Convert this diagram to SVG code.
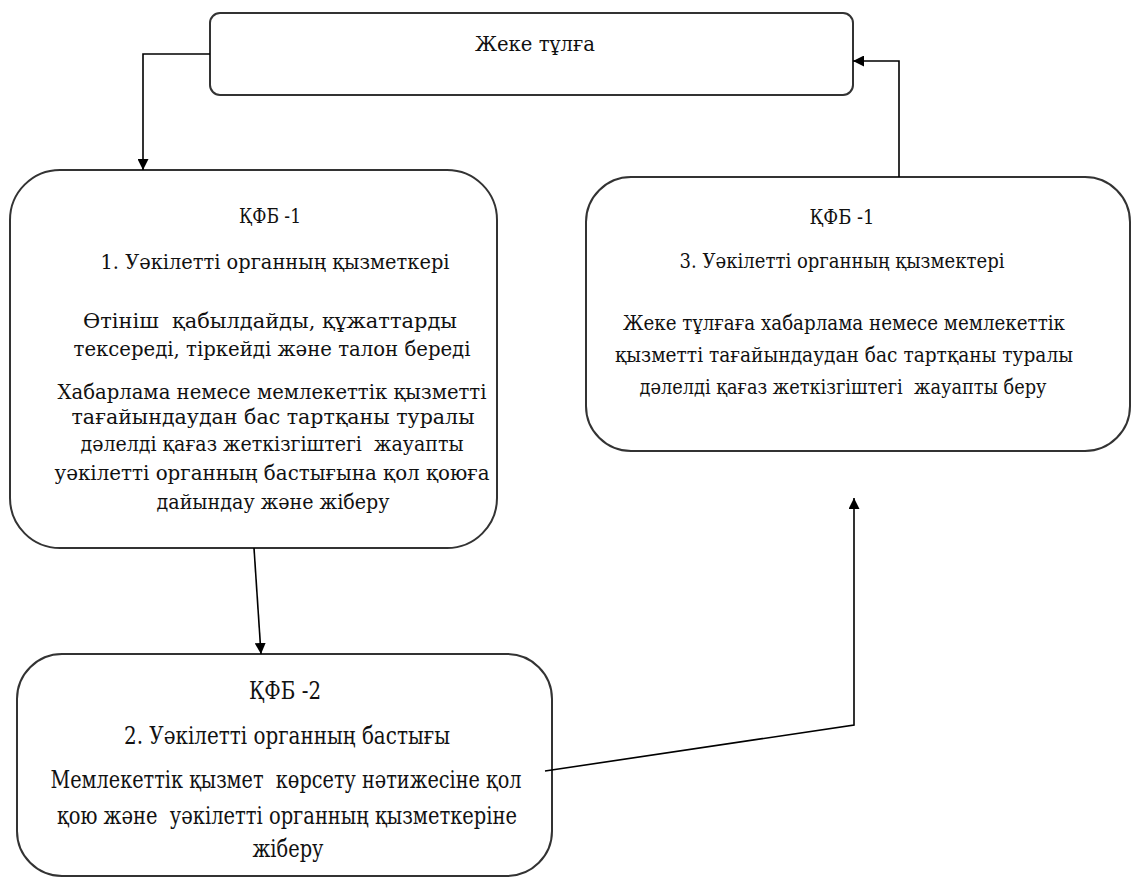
<svg xmlns="http://www.w3.org/2000/svg" width="1133" height="880" viewBox="0 0 1133 880">
<defs>
<marker id="ah" viewBox="0 0 10 10" refX="10" refY="5" markerWidth="11" markerHeight="11" markerUnits="userSpaceOnUse" orient="auto">
<path d="M0,0 L10,5 L0,10 z" fill="#000"/>
</marker>
<style>
.box{fill:#fff;stroke:#333;stroke-width:2}
.t{font-family:'DejaVu Serif','Liberation Serif',serif;font-size:21px;fill:#111;text-anchor:middle}
.n{font-size:25px}
.c{fill:none;stroke:#000;stroke-width:1.6}
</style>
</defs>
<rect width="1133" height="880" fill="#fff"/>
<g id="n0">
<rect class="box" x="210" y="13" width="643" height="82" rx="10"/>
<text class="t" x="535" y="51" textLength="120" lengthAdjust="spacingAndGlyphs">Жеке тұлға</text>
</g>
<g id="n1">
<rect class="box" x="10" y="170" width="487" height="378" rx="50"/>
<text class="t" x="270" y="223" textLength="62" lengthAdjust="spacingAndGlyphs">ҚФБ -1</text>
<text class="t" x="275" y="269" textLength="349" lengthAdjust="spacingAndGlyphs">1. Уәкілетті органның қызметкері</text>
<text class="t" x="270" y="328" textLength="374" lengthAdjust="spacingAndGlyphs" xml:space="preserve">Өтініш  қабылдайды, құжаттарды</text>
<text class="t" x="272" y="356" textLength="397" lengthAdjust="spacingAndGlyphs">тексереді, тіркейді және талон береді</text>
<text class="t" x="272" y="399" textLength="429" lengthAdjust="spacingAndGlyphs">Хабарлама немесе мемлекеттік қызметті</text>
<text class="t" x="273" y="424" textLength="403" lengthAdjust="spacingAndGlyphs">тағайындаудан бас тартқаны туралы</text>
<text class="t" x="272" y="451" textLength="383" lengthAdjust="spacingAndGlyphs" xml:space="preserve">дәлелді қағаз жеткізгіштегі  жауапты</text>
<text class="t" x="272" y="480" textLength="435" lengthAdjust="spacingAndGlyphs">уәкілетті органның бастығына қол қоюға</text>
<text class="t" x="273" y="509" textLength="233" lengthAdjust="spacingAndGlyphs">дайындау және жіберу</text>
</g>
<g id="n3">
<rect class="box" x="586" y="177" width="544" height="274" rx="45"/>
<text class="t" x="842" y="224" textLength="65" lengthAdjust="spacingAndGlyphs">ҚФБ -1</text>
<text class="t" x="842" y="268" textLength="325" lengthAdjust="spacingAndGlyphs">3. Уәкілетті органның қызмектері</text>
<text class="t" x="844" y="330" textLength="442" lengthAdjust="spacingAndGlyphs">Жеке тұлғаға хабарлама немесе мемлекеттік</text>
<text class="t" x="844" y="362" textLength="458" lengthAdjust="spacingAndGlyphs">қызметті тағайындаудан бас тартқаны туралы</text>
<text class="t" x="843" y="394" textLength="407" lengthAdjust="spacingAndGlyphs" xml:space="preserve">дәлелді қағаз жеткізгіштегі  жауапты беру</text>
</g>
<g id="n2">
<rect class="box" x="17" y="654" width="535" height="222" rx="45"/>
<text class="t n" x="285" y="699" textLength="72" lengthAdjust="spacingAndGlyphs">ҚФБ -2</text>
<text class="t n" x="287" y="744" textLength="326" lengthAdjust="spacingAndGlyphs">2. Уәкілетті органның бастығы</text>
<text class="t n" x="286" y="788" textLength="471" lengthAdjust="spacingAndGlyphs" xml:space="preserve">Мемлекеттік қызмет  көрсету нәтижесіне қол</text>
<text class="t n" x="287" y="824" textLength="460" lengthAdjust="spacingAndGlyphs" xml:space="preserve">қою және  уәкілетті органның қызметкеріне</text>
<text class="t n" x="288" y="857" textLength="71" lengthAdjust="spacingAndGlyphs">жіберу</text>
</g>
<g id="connectors">
<path class="c" d="M210,54 H143 V170" marker-end="url(#ah)"/>
<path class="c" d="M899,177 V61 H853" marker-end="url(#ah)"/>
<path class="c" d="M254,548 L261,654" marker-end="url(#ah)"/>
<path class="c" d="M545,771 L854,725 V498" marker-end="url(#ah)"/>
</g>
</svg>
